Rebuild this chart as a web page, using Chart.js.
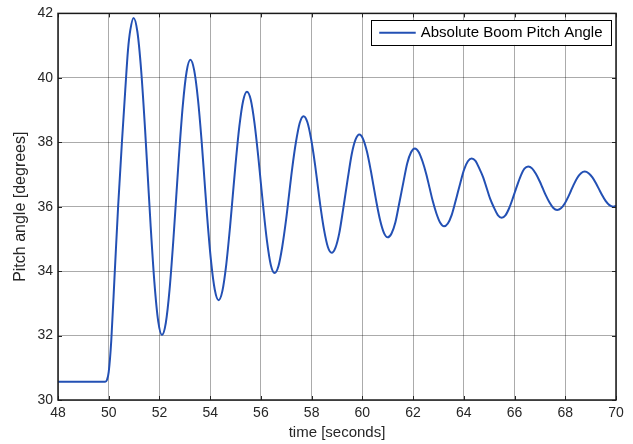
<!DOCTYPE html>
<html>
<head>
<meta charset="utf-8">
<script src="https://cdn.jsdelivr.net/npm/chart.js@4/dist/chart.umd.min.js"></script>
<style>
  html, body { margin: 0; padding: 0; background: #ffffff; }
  #wrap { width: 633px; height: 444px; position: relative; }
</style>
</head>
<body>
<div id="wrap"><canvas id="c" width="633" height="444"></canvas></div>
<script>
// ---- data ----
const seriesLabel = "Absolute Boom Pitch Angle";
const timeSeconds = [
  48.00, 49.86, 49.93, 50.00, 50.10, 50.24, 50.37, 50.52, 50.65, 50.76, 50.85, 50.98,
  51.13, 51.28, 51.43, 51.54, 51.65, 51.80, 51.95, 52.10,
  52.25, 52.40, 52.55, 52.66, 52.77, 52.92, 53.07, 53.22,
  53.37, 53.52, 53.67, 53.775, 53.88, 54.03, 54.18, 54.33,
  54.48, 54.63, 54.78, 54.89, 55.00, 55.15, 55.30, 55.45,
  55.60, 55.75, 55.90, 55.995, 56.09, 56.24, 56.39, 56.54,
  56.69, 56.84, 56.99, 57.11, 57.23, 57.38, 57.53, 57.68,
  57.83, 57.98, 58.13, 58.235, 58.34, 58.49, 58.64, 58.79,
  58.94, 59.09, 59.24, 59.335, 59.43, 59.58, 59.73, 59.88,
  60.03, 60.18, 60.33, 60.44, 60.55, 60.70, 60.85, 61.00,
  61.15, 61.30, 61.45, 61.535, 61.62, 61.77, 61.92, 62.07,
  62.22, 62.37, 62.52, 62.645, 62.77, 62.92, 63.07, 63.22,
  63.37, 63.52, 63.67, 63.765, 63.86, 64.01, 64.16, 64.31,
  64.46, 64.61, 64.76, 64.90, 65.04, 65.19, 65.34, 65.49,
  65.64, 65.79, 65.94, 66.015, 66.09, 66.24, 66.39, 66.54,
  66.69, 66.84, 66.99, 67.11, 67.23, 67.38, 67.53, 67.68,
  67.83, 67.98, 68.13, 68.225, 68.32, 68.47, 68.62, 68.77,
  68.92, 69.07, 69.22, 69.33, 69.44, 69.59, 69.74, 69.89, 70.00
];
const pitchAngle = [
  30.57, 30.57, 30.62, 30.87, 31.84, 34.00, 36.00, 38.00, 39.60, 40.87, 41.48, 41.86,
  41.43, 40.22, 38.44, 36.94, 35.44, 33.66, 32.45, 32.02,
  32.39, 33.44, 34.99, 36.29, 37.59, 39.14, 40.19, 40.56,
  40.23, 39.32, 37.96, 36.83, 35.70, 34.34, 33.43, 33.10,
  33.38, 34.18, 35.35, 36.335, 37.32, 38.49, 39.29, 39.57,
  39.32, 38.58, 37.52, 36.755, 36.00, 34.93, 34.19, 33.94,
  34.15, 34.75, 35.58, 36.375, 37.17, 38.00, 38.60, 38.81,
  38.63, 38.10, 37.33, 36.69, 36.05, 35.28, 34.75, 34.57,
  34.73, 35.18, 35.91, 36.405, 36.90, 37.63, 38.08, 38.24,
  38.10, 37.71, 37.13, 36.645, 36.16, 35.58, 35.19, 35.05,
  35.17, 35.51, 36.09, 36.43, 36.77, 37.35, 37.69, 37.81,
  37.70, 37.41, 37.01, 36.60, 36.19, 35.79, 35.50, 35.39,
  35.48, 35.74, 36.16, 36.445, 36.73, 37.15, 37.41, 37.50,
  37.42, 37.19, 36.92, 36.58, 36.24, 35.97, 35.74, 35.66,
  35.73, 35.96, 36.28, 36.455, 36.63, 36.95, 37.18, 37.25,
  37.19, 37.02, 36.79, 36.575, 36.36, 36.13, 35.96, 35.90,
  35.95, 36.10, 36.33, 36.495, 36.66, 36.89, 37.04, 37.09,
  37.04, 36.91, 36.71, 36.545, 36.38, 36.18, 36.05, 36.00, 36.02
];
const xTicks = [48, 50, 52, 54, 56, 58, 60, 62, 64, 66, 68, 70];
const yTicks = [30, 32, 34, 36, 38, 40, 42];
const xTitle = "time [seconds]";
const yTitle = "Pitch angle [degrees]";

const points = timeSeconds.map((t, i) => ({ x: t, y: pitchAngle[i] }));
const FONT = "'Liberation Sans', Arial, Helvetica, sans-serif";
const TEXT = "#262626";
const LINE = "#2350b4";

const framePlugin = {
  id: 'frame',
  afterDatasetsDraw(chart) {
    const { ctx, chartArea: ca, scales } = chart;
    ctx.save();
    ctx.strokeStyle = TEXT;
    ctx.lineWidth = 1;
    const tl = 4;
    ctx.beginPath();
    xTicks.forEach(v => {
      const px = Math.round(scales.x.getPixelForValue(v)) + 0.5;
      ctx.moveTo(px, ca.bottom); ctx.lineTo(px, ca.bottom - tl);
      ctx.moveTo(px, ca.top); ctx.lineTo(px, ca.top + tl);
    });
    yTicks.forEach(v => {
      const py = Math.round(scales.y.getPixelForValue(v)) + 0.5;
      ctx.moveTo(ca.left, py); ctx.lineTo(ca.left + tl, py);
      ctx.moveTo(ca.right, py); ctx.lineTo(ca.right - tl, py);
    });
    ctx.stroke();
    ctx.lineWidth = 1.5;
    ctx.strokeStyle = "#1a1a1a";
    ctx.strokeRect(ca.left, ca.top, ca.right - ca.left, ca.bottom - ca.top);

    const ds = chart.data.datasets[0];
    ctx.font = "15px " + FONT;
    const tw = ctx.measureText(ds.label).width;
    const boxRight = ca.right - 5.5;
    const textRight = boxRight - 8;
    const textLeft = textRight - tw;
    const lineRight = textLeft - 5;
    const lineLeft = lineRight - 36.5;
    const boxLeft = lineLeft - 8.5;
    const boxTop = ca.top + 7;
    const boxH = 24.5;
    const midY = boxTop + boxH / 2;
    ctx.fillStyle = "#ffffff";
    ctx.fillRect(boxLeft, boxTop, boxRight - boxLeft, boxH);
    ctx.lineWidth = 1;
    ctx.strokeStyle = "#000000";
    ctx.strokeRect(Math.round(boxLeft) + 0.5, Math.round(boxTop) + 0.5,
                   Math.round(boxRight - boxLeft), Math.round(boxH));
    ctx.strokeStyle = ds.borderColor;
    ctx.lineWidth = 2;
    ctx.beginPath();
    ctx.moveTo(lineLeft, midY); ctx.lineTo(lineRight, midY);
    ctx.stroke();
    ctx.fillStyle = "#000000";
    ctx.textBaseline = "middle";
    ctx.textAlign = "left";
    ctx.fillText(ds.label, textLeft, midY + 0.5);
    ctx.restore();
  }
};

new Chart(document.getElementById('c'), {
  type: 'line',
  data: {
    datasets: [{
      label: seriesLabel,
      data: points,
      borderColor: LINE,
      backgroundColor: LINE,
      borderWidth: 2,
      pointRadius: 0,
      fill: false,
      cubicInterpolationMode: 'monotone'
    }]
  },
  options: {
    responsive: false,
    animation: false,
    events: [],
    layout: { padding: { top: 8, right: 17, left: 0, bottom: 0 } },
    plugins: { legend: { display: false }, tooltip: { enabled: false } },
    scales: {
      x: {
        type: 'linear',
        min: 48, max: 70,
        afterBuildTicks(scale) { scale.ticks = xTicks.map(v => ({ value: v })); },
        afterFit(scale) { scale.height = 44; },
        grid: { color: "rgba(0,0,0,0.33)", lineWidth: 1, drawTicks: false },
        border: { display: false },
        ticks: { color: TEXT, font: { family: FONT, size: 14 }, padding: 5, maxRotation: 0 },
        title: { display: true, text: xTitle, color: TEXT, font: { family: FONT, size: 15 }, padding: { top: 0, bottom: 2.5 } }
      },
      y: {
        type: 'linear',
        min: 30, max: 42,
        afterBuildTicks(scale) { scale.ticks = yTicks.map(v => ({ value: v })); },
        afterFit(scale) { scale.width = 58; },
        grid: { color: "rgba(0,0,0,0.33)", lineWidth: 1, drawTicks: false },
        border: { display: false },
        ticks: { color: TEXT, font: { family: FONT, size: 14 }, padding: 5 },
        title: { display: true, text: yTitle, color: TEXT, font: { family: FONT, size: 16 }, padding: { top: 11, bottom: 0 } }
      }
    }
  },
  plugins: [framePlugin]
});
</script>
</body>
</html>
